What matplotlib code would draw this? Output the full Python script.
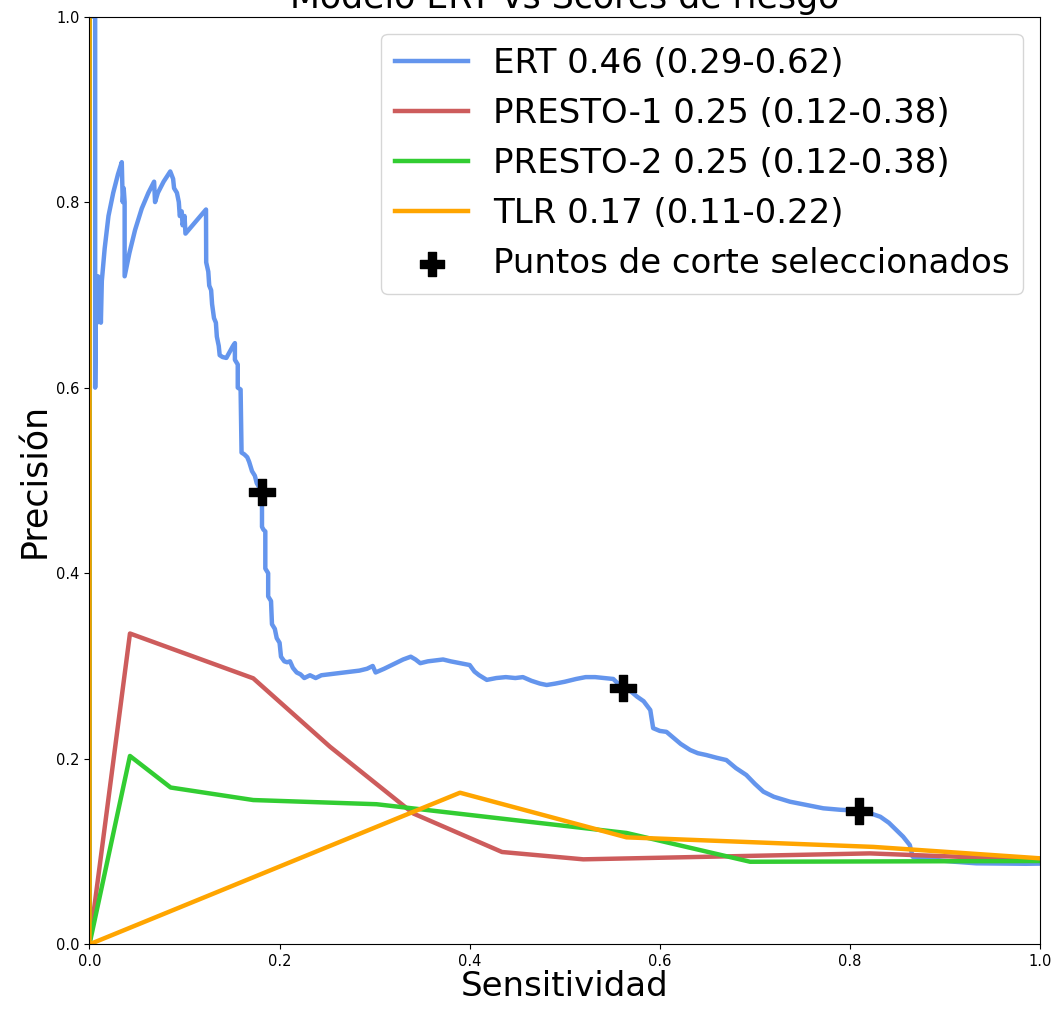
import matplotlib
matplotlib.use("Agg")
import matplotlib.pyplot as plt

# Precision-recall curve of the ERT model
ert_recall = [0.0, 0.006, 0.006, 0.007, 0.008, 0.009, 0.010, 0.011, 0.012, 0.013,
              0.016, 0.020, 0.025, 0.030, 0.034, 0.035, 0.036, 0.037, 0.037,
              0.042, 0.048, 0.055, 0.062, 0.068, 0.069, 0.072, 0.078, 0.085,
              0.088, 0.089, 0.092, 0.094, 0.095, 0.097, 0.098, 0.100, 0.101,
              0.1226, 0.1228, 0.125, 0.126, 0.128, 0.129, 0.131, 0.133, 0.134,
              0.136, 0.137, 0.140, 0.144, 0.151, 0.153, 0.153, 0.156, 0.156,
              0.159, 0.160, 0.163, 0.166, 0.168, 0.171, 0.174, 0.176, 0.1815,
              0.1815, 0.183, 0.185, 0.185, 0.188, 0.188, 0.191, 0.192, 0.195,
              0.197, 0.200, 0.2015, 0.205, 0.208, 0.211, 0.214, 0.218, 0.222,
              0.226, 0.232, 0.238, 0.244, 0.252, 0.260, 0.268, 0.276, 0.284,
              0.292, 0.298, 0.301, 0.310, 0.320, 0.330, 0.338, 0.343, 0.348,
              0.356, 0.364, 0.372, 0.380, 0.390, 0.400, 0.405, 0.410, 0.418,
              0.428, 0.438, 0.448, 0.456, 0.465, 0.474, 0.481, 0.490, 0.500,
              0.512, 0.522, 0.532, 0.542, 0.551, 0.561, 0.568, 0.576, 0.583,
              0.590, 0.593, 0.600, 0.607, 0.615, 0.622, 0.632, 0.640, 0.649,
              0.660, 0.670, 0.680, 0.691, 0.700, 0.709, 0.720, 0.737, 0.755,
              0.772, 0.790, 0.810, 0.822, 0.832, 0.841, 0.849, 0.856, 0.863,
              0.866, 0.878, 0.891, 0.910, 0.933, 0.960, 0.985, 1.0]
ert_precision = [1.0, 1.0, 0.60, 0.72, 0.67, 0.72, 0.68, 0.715, 0.67, 0.715,
                 0.75, 0.785, 0.81, 0.83, 0.843, 0.80, 0.815, 0.80, 0.72,
                 0.745, 0.77, 0.793, 0.81, 0.822, 0.80, 0.81, 0.822, 0.833,
                 0.825, 0.815, 0.81, 0.80, 0.785, 0.79, 0.775, 0.785, 0.766,
                 0.792, 0.735, 0.725, 0.71, 0.705, 0.69, 0.675, 0.67, 0.655,
                 0.645, 0.635, 0.633, 0.632, 0.645, 0.648, 0.63, 0.625, 0.60,
                 0.598, 0.53, 0.528, 0.525, 0.52, 0.51, 0.505, 0.497, 0.4875,
                 0.45, 0.447, 0.445, 0.405, 0.40, 0.375, 0.37, 0.345, 0.34,
                 0.33, 0.325, 0.31, 0.305, 0.304, 0.305, 0.298, 0.293, 0.291,
                 0.287, 0.29, 0.287, 0.29, 0.291, 0.292, 0.293, 0.294, 0.295,
                 0.297, 0.30, 0.293, 0.297, 0.302, 0.307, 0.31, 0.307, 0.303,
                 0.305, 0.306, 0.307, 0.305, 0.303, 0.301, 0.294, 0.29, 0.285,
                 0.287, 0.288, 0.287, 0.288, 0.284, 0.281, 0.2795, 0.281, 0.283,
                 0.286, 0.288, 0.288, 0.287, 0.286, 0.276, 0.274, 0.267, 0.262,
                 0.2525, 0.233, 0.230, 0.229, 0.222, 0.216, 0.2094, 0.206, 0.204,
                 0.201, 0.1986, 0.19, 0.1825, 0.173, 0.1645, 0.159, 0.1537, 0.150,
                 0.1466, 0.145, 0.144, 0.141, 0.1375, 0.131, 0.123, 0.116, 0.107,
                 0.0944, 0.092, 0.0909, 0.089, 0.0873, 0.087, 0.0868, 0.087]

# Risk scores
presto1_recall = [0.0, 0.0, 0.0426, 0.1723, 0.253, 0.3407, 0.434, 0.5195, 0.821, 1.0]
presto1_precision = [1.0, 0.0, 0.335, 0.2867, 0.213, 0.141, 0.0995, 0.0916, 0.098, 0.091]

presto2_recall = [0.0, 0.0, 0.0426, 0.0854, 0.1723, 0.302, 0.565, 0.695, 1.0]
presto2_precision = [1.0, 0.0, 0.203, 0.169, 0.1555, 0.151, 0.12, 0.089, 0.0898]

tlr_recall = [0.0, 0.0, 0.3898, 0.565, 0.8246, 1.0]
tlr_precision = [1.0, 0.0, 0.1634, 0.1153, 0.105, 0.0927]

# Selected cut-off points on the ERT curve
cut_recall = [0.1815, 0.561, 0.810]
cut_precision = [0.4875, 0.276, 0.144]

labels = ["ERT 0.46 (0.29-0.62)",
          "PRESTO-1 0.25 (0.12-0.38)",
          "PRESTO-2 0.25 (0.12-0.38)",
          "TLR 0.17 (0.11-0.22)",
          "Puntos de corte seleccionados"]

fig = plt.figure(figsize=(10.55, 10.13), dpi=100)
ax = fig.add_axes([0.0848, 0.0678, 0.9010, 0.9159])

lw = 3.2
ax.plot(ert_recall, ert_precision, color="cornflowerblue", lw=lw, label=labels[0])
ax.plot(presto1_recall, presto1_precision, color="indianred", lw=lw, label=labels[1])
ax.plot(presto2_recall, presto2_precision, color="limegreen", lw=lw, label=labels[2])
ax.plot(tlr_recall, tlr_precision, color="orange", lw=lw, label=labels[3])
ax.scatter(cut_recall, cut_precision, marker="P", s=330, color="black",
           zorder=5, label=labels[4])

ax.set_xlim(0, 1)
ax.set_ylim(0, 1)
ax.set_xticks([0.0, 0.2, 0.4, 0.6, 0.8, 1.0])
ax.set_yticks([0.0, 0.2, 0.4, 0.6, 0.8, 1.0])
ax.tick_params(labelsize=10.5)
ax.set_xlabel("Sensitividad", fontsize=24.5, labelpad=1)
ax.set_ylabel("Precisión", fontsize=25, labelpad=3)
ax.set_title("Modelo ERT vs Scores de riesgo", fontsize=25)

ax.legend(loc="upper right", fontsize=24.5, handlelength=2.15,
          handletextpad=0.72, labelspacing=0.5, markerscale=0.95)

fig.savefig("out.png", dpi=100)
